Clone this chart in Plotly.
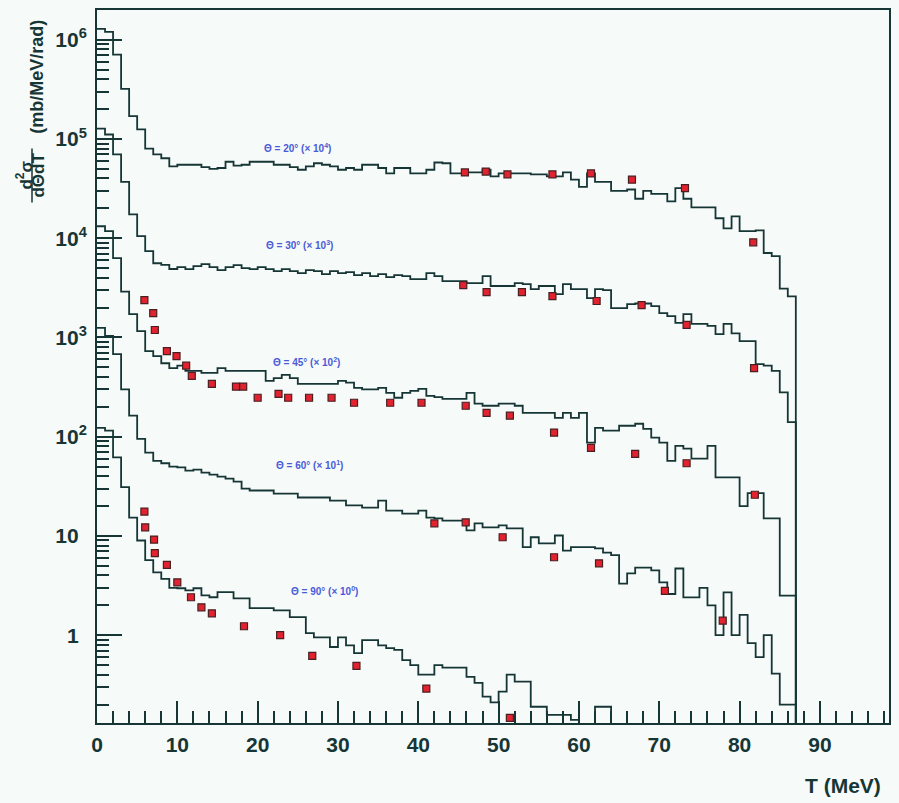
import plotly.graph_objects as go

# ---------------- data (raw values in mb/MeV/rad, before scaling) ----------------
bin_edges = list(range(0, 88))          # 1 MeV bins from 0 to 87 MeV
angles = ["20", "30", "45", "60", "90"]
scale_exp = [4, 3, 2, 1, 0]

h20 = [129, 120, 71, 32, 17, 12.5, 8.0, 7.0, 6.4, 5.3,
       5.5, 5.5, 5.5, 5.2, 5.0, 5.1, 5.9, 5.4, 5.5, 5.9,
       5.9, 5.9, 5.5, 5.5, 5.2, 4.9, 5.3, 5.7, 5.5, 5.3,
       4.9, 5.1, 4.9, 5.5, 5.5, 5.1, 4.5, 5.1, 5.1, 4.5,
       4.5, 4.9, 5.8, 5.7, 4.5, 4.5, 4.6, 4.6, 4.9, 4.2,
       4.5, 4.5, 4.5, 4.5, 4.4, 4.4, 4.2, 4.2, 4.6, 3.9,
       3.3, 4.5, 3.7, 3.7, 3.0, 3.0, 3.1, 2.5, 3.0, 2.8,
       2.8, 2.35, 3.2, 2.5, 2.05, 2.05, 2.05, 1.59, 1.26, 1.66,
       1.18, 1.18, 1.2, 0.71, 0.66, 0.31, 0.26]
h30 = [127, 111, 70, 37, 17.4, 10.5, 7.4, 5.6, 5.4, 4.9,
       5.11, 4.88, 5.23, 5.48, 5.11, 4.77, 5.11, 5.35, 4.99, 4.88,
       5.11, 4.88, 4.66, 4.88, 4.66, 4.45, 4.77, 4.66, 4.35, 4.66,
       4.45, 4.55, 4.25, 4.45, 4.15, 4.35, 4.06, 4.25, 4.15, 3.87,
       3.87, 4.45, 4.15, 3.7, 3.7, 3.7, 3.53, 3.53, 4.15, 3.3,
       3.3, 3.3, 3.53, 3.45, 3.07, 3.3, 3.3, 2.74, 3.45, 3.07,
       3.07, 2.49, 3.07, 3.0, 1.98, 1.98, 2.17, 2.2, 2.2, 2.07,
       1.76, 1.64, 1.40, 1.72, 1.37, 1.37, 1.31, 1.08, 1.37, 1.1,
       0.92, 0.92, 0.54, 0.52, 0.46, 0.28, 0.14]
h45 = [132, 118, 63, 29, 17.2, 11.6, 7.3, 6.5, 5.5, 4.9,
       5.2, 4.6, 4.6, 4.4, 4.4, 4.9, 4.6, 4.6, 4.6, 4.6,
       4.6, 3.65, 3.9, 4.2, 3.9, 3.4, 3.4, 3.4, 3.4, 3.4,
       3.65, 3.5, 3.1, 3.0, 3.0, 3.1, 2.77, 2.47, 2.77, 2.9,
       3.04, 2.58, 2.5, 2.41, 2.41, 2.41, 2.77, 2.15, 2.05, 2.05,
       2.15, 2.15, 2.05, 1.74, 1.74, 1.74, 1.74, 1.55, 1.74, 1.55,
       1.74, 0.87, 1.23, 1.15, 1.15, 1.29, 1.29, 1.35, 1.2, 0.98,
       0.87, 0.57, 0.81, 0.76, 0.60, 0.60, 0.81, 0.39, 0.39, 0.39,
       0.20, 0.27, 0.27, 0.15, 0.15, 0.025, 0.025]
h60 = [125, 104, 68, 30, 16.3, 9.5, 6.9, 5.7, 5.4, 5.0,
       4.9, 4.55, 4.65, 4.35, 4.15, 3.96, 3.78, 3.53, 3.0, 2.87,
       2.87, 2.87, 2.67, 2.67, 2.67, 2.44, 2.44, 2.44, 2.44, 2.27,
       2.27, 2.03, 2.03, 1.93, 1.93, 2.27, 1.8, 1.8, 1.68, 1.68,
       1.8, 1.53, 1.50, 1.43, 1.43, 1.43, 1.14, 1.34, 1.22, 1.22,
       1.28, 1.19, 1.19, 0.77, 0.97, 0.84, 0.84, 1.01, 0.71, 0.77,
       0.77, 0.77, 0.75, 0.68, 0.64, 0.33, 0.42, 0.48, 0.48, 0.45,
       0.34, 0.26, 0.47, 0.24, 0.24, 0.30, 0.20, 0.10, 0.27, 0.10,
       0.16, 0.083, 0.060, 0.10, 0.041, 0.020, 0.020]
h90 = [123, 115, 62, 31, 15.3, 9.0, 5.7, 4.3, 3.7, 3.0,
       2.97, 2.83, 2.97, 2.52, 2.41, 2.71, 2.71, 2.35, 2.35, 1.87,
       1.87, 1.87, 1.78, 1.78, 1.52, 1.52, 1.05, 0.95, 0.95, 0.76,
       0.95, 0.79, 0.66, 0.89, 0.89, 0.79, 0.74, 0.71, 0.56, 0.50,
       0.40, 0.40, 0.50, 0.47, 0.47, 0.47, 0.38, 0.33, 0.24, 0.21,
       0.27, 0.40, 0.34, 0.34, 0.19, 0.19, 0.157, 0.157, 0.157, 0.14,
       0.10, 0.10, 0.19, 0.19, 0.08, 0.06, 0.06, 0.06, 0.06, 0.06,
       0.06, 0.06, 0.06, 0.06, 0.06, 0.06, 0.06, 0.06, 0.06, 0.06,
       0.06, 0.06, 0.06, 0.06, 0.06, 0.06, 0.06]

# measured points (T in MeV, raw value)
d20_T = [45.8, 48.4, 51.1, 56.7, 61.5, 66.6, 73.2, 81.7]
d20_v = [4.6, 4.7, 4.4, 4.4, 4.5, 3.9, 3.2, 0.91]
d30_T = [45.6, 48.5, 52.9, 56.7, 62.2, 67.8, 73.4, 81.8]
d30_v = [3.37, 2.87, 2.87, 2.61, 2.33, 2.12, 1.34, 0.49]
d45_T = [5.9, 7.0, 7.2, 8.7, 9.9, 11.1, 11.8, 14.3, 17.3, 18.2, 20.0, 22.6, 23.8,
         26.4, 29.2, 32.0, 36.5, 40.4, 45.9, 48.5, 51.4, 56.9, 61.5, 67.0, 73.4, 81.9]
d45_v = [23.8, 17.6, 11.9, 7.3, 6.5, 5.2, 4.1, 3.4, 3.2, 3.2, 2.47, 2.7, 2.47,
         2.47, 2.47, 2.2, 2.2, 2.2, 2.05, 1.74, 1.63, 1.1, 0.77, 0.67, 0.54, 0.26]
d60_T = [42.0, 45.9, 50.5, 56.9, 62.5, 70.7, 77.9]
d60_v = [1.34, 1.37, 0.97, 0.61, 0.53, 0.28, 0.14]
d90_T = [5.9, 6.0, 7.1, 7.2, 8.7, 10.0, 11.7, 13.0, 14.3, 18.3, 22.8, 26.8, 32.3, 41.0, 51.4]
d90_v = [17.6, 12.2, 9.2, 6.7, 5.1, 3.4, 2.41, 1.91, 1.66, 1.23, 1.0, 0.62, 0.49, 0.29, 0.147]

hists = [h20, h30, h45, h60, h90]
data_T = [d20_T, d30_T, d45_T, d60_T, d90_T]
data_v = [d20_v, d30_v, d45_v, d60_v, d90_v]

BG = "#f6faf8"
pad = "<sup><span style='color:%s'>0</span></sup>" % BG   # invisible spacer, aligns like reference
y_tick_vals = [1, 10, 100, 1e3, 1e4, 1e5, 1e6]
y_tick_text = ["1" + pad, "10" + pad, "10<sup>2</sup>", "10<sup>3</sup>", "10<sup>4</sup>",
               "10<sup>5</sup>", "10<sup>6</sup>"]

# ---------------- style ----------------
W, H = 899, 803
ML, MR, MT, MB = 97, 10, 8, 80
INK = "#163636"
RED = "#e2232f"
LABEL_BLUE = "#4a5ad8"
FLOOR = 1e-4

fig = go.Figure()

for k, h in enumerate(hists):
    s = 10 ** scale_exp[k]
    yv = [v * s for v in h] + [FLOOR]
    fig.add_trace(go.Scatter(x=bin_edges, y=yv, mode="lines", line_shape="hv",
                             line=dict(color=INK, width=1.8), hoverinfo="skip"))

for k in range(len(angles)):
    s = 10 ** scale_exp[k]
    fig.add_trace(go.Scatter(x=data_T[k], y=[v * s for v in data_v[k]], mode="markers",
                             marker=dict(symbol="square", size=7, color=RED,
                                         line=dict(color="#4a1f22", width=1.2))))

# curve labels
label_pos = [(24.9, 4.905), (25.2, 3.93), (26.1, 2.754), (26.4, 1.719), (28.3, 0.442)]
for k, a in enumerate(angles):
    fig.add_annotation(x=label_pos[k][0], y=label_pos[k][1], xref="x", yref="y",
                       text="Θ = %s° (× 10<sup>%d</sup>)" % (a, scale_exp[k]),
                       xanchor="center", yanchor="middle",
                       showarrow=False, font=dict(size=10, color=LABEL_BLUE, weight="bold"))

pw = W - ML - MR
ph = H - MT - MB
def px(xp):
    return (xp - ML) / pw
def py(yp):
    return 1 - (yp - MT) / ph

# y-axis title (rotated)
common = dict(xref="paper", yref="paper", textangle=-90, showarrow=False,
              xanchor="center", yanchor="middle")
fig.add_annotation(x=px(37), y=py(75), text="<b>(mb/MeV/rad)</b>",
                   font=dict(size=18, color=INK), **common)
fig.add_annotation(x=px(24), y=py(174), text="<b>d<sup>2</sup>σ</b>",
                   font=dict(size=17, color=INK), **common)
fig.add_annotation(x=px(39), y=py(174), text="<b>dΘdT</b>",
                   font=dict(size=17, color=INK), **common)
fig.add_shape(type="line", xref="paper", yref="paper", x0=px(32), x1=px(32), y0=py(147), y1=py(201),
              line=dict(color=INK, width=1.5))
# x-axis title
fig.add_annotation(x=px(843), y=py(786), xref="paper", yref="paper", text="<b>T (MeV)</b>",
                   xanchor="center", yanchor="middle",
                   showarrow=False, font=dict(size=21, color=INK))

fig.update_layout(
    width=W, height=H, margin=dict(l=ML, r=MR, t=MT, b=MB),
    paper_bgcolor=BG, plot_bgcolor=BG, showlegend=False,
    font=dict(family="Liberation Sans, Arial, sans-serif", color=INK),
    xaxis=dict(range=[0, 98.6], showline=True, linewidth=2, linecolor=INK, mirror=True,
               ticks="inside", ticklen=22, tickwidth=2, tickcolor=INK, tick0=0, dtick=10,
               showgrid=False, zeroline=False, ticklabelstandoff=2,
               tickfont=dict(size=21, color=INK, weight="bold"),
               minor=dict(dtick=2, ticks="inside", ticklen=12, tickwidth=2, tickcolor=INK,
                          showgrid=False)),
    yaxis=dict(type="log", range=[-0.885, 6.30], showline=True, linewidth=2, linecolor=INK,
               mirror=True, ticks="inside", ticklen=25, tickwidth=2, tickcolor=INK,
               tickmode="array", tickvals=y_tick_vals, ticktext=y_tick_text,
               showgrid=False, zeroline=False, ticklabelstandoff=4,
               tickfont=dict(size=21, color=INK, weight="bold"),
               minor=dict(dtick="D1", ticks="inside", ticklen=12, tickwidth=2, tickcolor=INK,
                          showgrid=False)),
)

fig.write_html("out.html")
